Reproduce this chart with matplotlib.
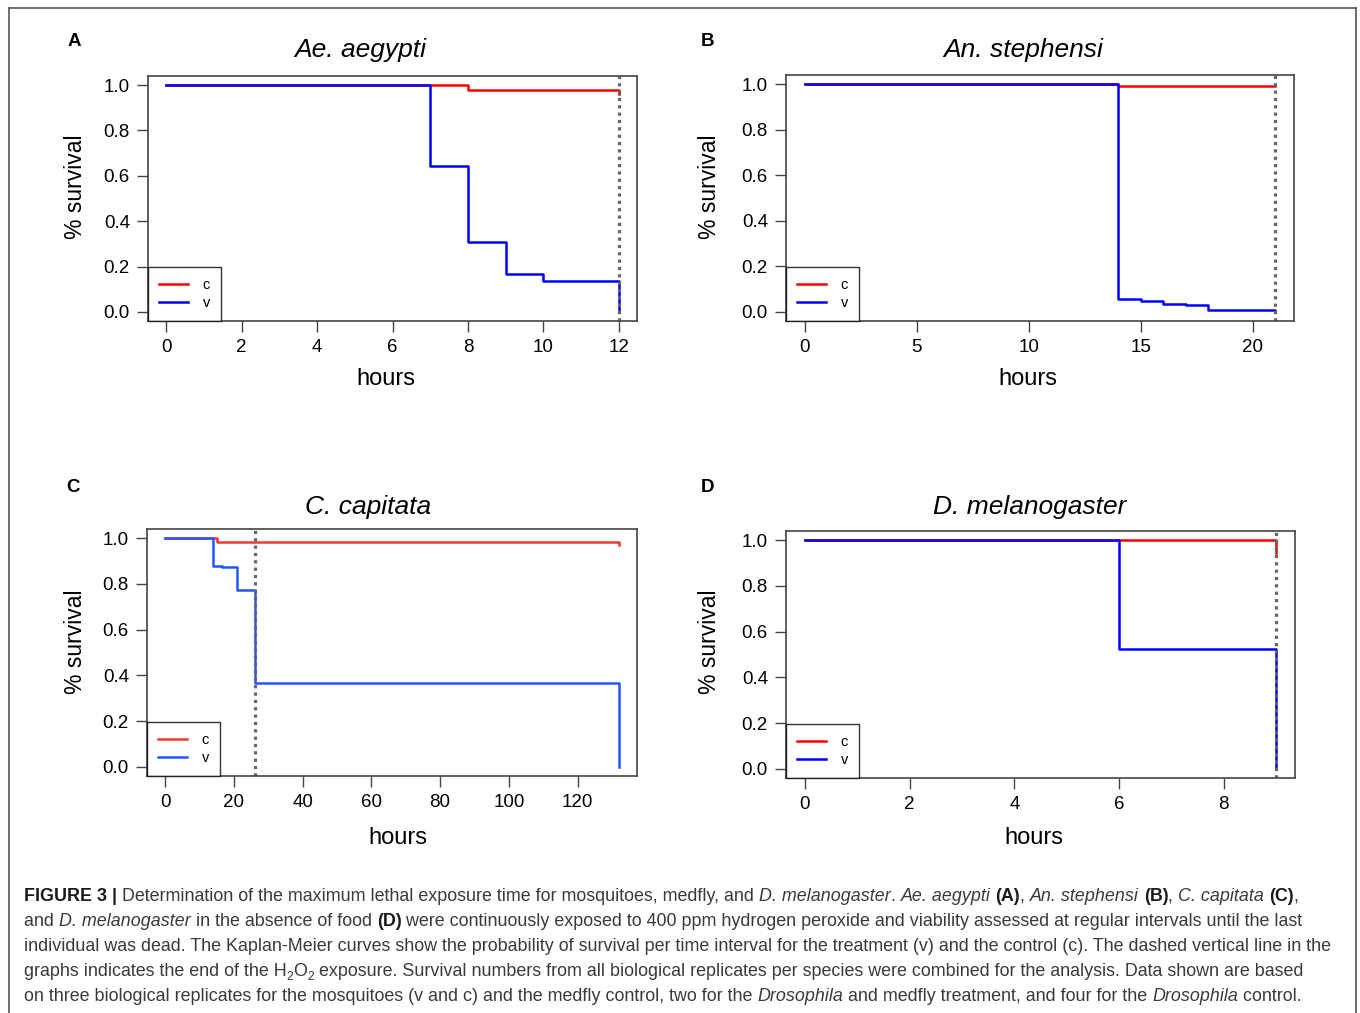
import matplotlib
matplotlib.use("Agg")
import matplotlib.pyplot as plt
from matplotlib.lines import Line2D
from matplotlib import font_manager

W, H = 1360, 1013
DPI = 100

# ---------------- data ----------------
titles = ["Ae. aegypti", "An. stephensi", "C. capitata", "D. melanogaster"]
letters = ["A", "B", "C", "D"]
exposure_end = [12, 21, 26, 9]
x_max = [12, 21, 132, 9]
x_ticks = [[0, 2, 4, 6, 8, 10, 12], [0, 5, 10, 15, 20],
           [0, 20, 40, 60, 80, 100, 120], [0, 2, 4, 6, 8]]
y_ticks = [0.0, 0.2, 0.4, 0.6, 0.8, 1.0]
y_tick_labels = ["0.0", "0.2", "0.4", "0.6", "0.8", "1.0"]

# A: Ae. aegypti
a_c_t = [0, 8, 12]
a_c_s = [1.0, 0.978, 0.96]
a_v_t = [0, 7, 8, 9, 10, 12]
a_v_s = [1.0, 0.645, 0.31, 0.165, 0.135, 0.0]
# B: An. stephensi
b_c_t = [0, 14, 21]
b_c_s = [1.0, 0.9925, 0.9925]
b_v_t = [0, 14, 15, 16, 17, 18, 21]
b_v_s = [1.0, 0.058, 0.048, 0.036, 0.029, 0.007, 0.0]
# C: C. capitata
c_c_t = [0, 15, 132]
c_c_s = [1.0, 0.982, 0.97]
c_v_t = [0, 14, 16.5, 21, 26, 132]
c_v_s = [1.0, 0.88, 0.874, 0.773, 0.365, 0.0]
# D: D. melanogaster
d_c_t = [0, 9]
d_c_s = [1.0, 0.943]
d_v_t = [0, 6, 9]
d_v_s = [1.0, 0.524, 0.0]

control_t = [a_c_t, b_c_t, c_c_t, d_c_t]
control_s = [a_c_s, b_c_s, c_c_s, d_c_s]
treat_t = [a_v_t, b_v_t, c_v_t, d_v_t]
treat_s = [a_v_s, b_v_s, c_v_s, d_v_s]
legend_labels = ["c", "v"]

# ---------------- layout (pixels) ----------------
axes_px = [(148, 76, 637, 321), (786, 75, 1294, 321),
           (147, 529, 637, 776), (786, 531, 1295, 778)]
title_px = [(360, 50), (1023, 50), (368, 507), (1030, 507)]
letter_px = [(74, 41), (708, 41), (73, 488), (708, 488)]
xlabel_px = [(386, 379), (1028, 379), (398, 838), (1034, 838)]
ylabel_px = [(75, 187), (710, 187), (75, 642), (710, 642)]
red_cols = ["#ff0000", "#ff0000", "#ee3a30", "#ff0000"]
blue_cols = ["#0000ff", "#0000ff", "#2255ff", "#0000ff"]

FONT = ["Liberation Sans", "DejaVu Sans"]
plt.rcParams["font.family"] = FONT


def fx(x):
    return x / W


def fy(y):
    return 1 - y / H


fig = plt.figure(figsize=(W / DPI, H / DPI), dpi=DPI)

# outer frame
frame_col = "#555555"
fig.add_artist(Line2D([fx(8.5), fx(8.5)], [fy(8.5), 0], transform=fig.transFigure, color=frame_col, lw=1.2))
fig.add_artist(Line2D([fx(8.5), fx(1355.5)], [fy(8.5), fy(8.5)], transform=fig.transFigure, color=frame_col, lw=1.2))
fig.add_artist(Line2D([fx(1355.5), fx(1355.5)], [fy(8.5), 0], transform=fig.transFigure, color=frame_col, lw=1.2))

spine_col = "#444444"
for i in range(4):
    x0, y0, x1, y1 = axes_px[i]
    ax = fig.add_axes([fx(x0), fy(y1), (x1 - x0) / W, (y1 - y0) / H])
    xm = x_max[i]
    ax.step(control_t[i], control_s[i], where="post", color=red_cols[i], lw=1.8)
    ax.step(treat_t[i], treat_s[i], where="post", color=blue_cols[i], lw=1.8)
    ax.axvline(exposure_end[i], color="#666666", lw=2.3, ls=(0, (1, 1.3)))
    ax.set_xlim(-0.04 * xm, 1.04 * xm)
    ax.set_ylim(-0.04, 1.04)
    ax.set_xticks(x_ticks[i])
    ax.set_xticklabels([str(t) for t in x_ticks[i]])
    ax.set_yticks(y_ticks)
    ax.set_yticklabels(y_tick_labels)
    ax.tick_params(axis="both", length=8, width=1, color=spine_col, labelsize=13.5,
                   labelcolor="black", direction="out")
    ax.tick_params(axis="y", pad=5)
    ax.tick_params(axis="x", pad=5)
    for s in ax.spines.values():
        s.set_color(spine_col)
        s.set_linewidth(1.2)
    handles = [Line2D([], [], color=red_cols[i], lw=1.8),
               Line2D([], [], color=blue_cols[i], lw=1.8)]
    leg = ax.legend(handles, legend_labels, loc="lower left", bbox_to_anchor=(0, 0),
                    borderaxespad=0, fancybox=False, frameon=True, fontsize=10.5,
                    handlelength=2.0, handletextpad=1.0, borderpad=0.75,
                    labelspacing=0.25)
    leg.get_frame().set_edgecolor("black")
    leg.get_frame().set_linewidth(1.0)

    fig.text(fx(title_px[i][0]), fy(title_px[i][1]), titles[i], fontsize=19,
             style="italic", ha="center", va="center")
    fig.text(fx(letter_px[i][0]), fy(letter_px[i][1]), letters[i], fontsize=13.5,
             weight="bold", ha="center", va="center")
    fig.text(fx(xlabel_px[i][0]), fy(xlabel_px[i][1]), "hours", fontsize=17,
             ha="center", va="center")
    fig.text(fx(ylabel_px[i][0]), fy(ylabel_px[i][1]), "% survival", fontsize=16.5,
             ha="center", va="center", rotation=90)

# ---------------- caption ----------------
def has_font(name):
    try:
        font_manager.findfont(name, fallback_to_default=False)
        return True
    except Exception:
        return False

cap_family = ["Liberation Sans Narrow", "Liberation Sans"] if has_font("Liberation Sans Narrow") else ["Liberation Sans"]

caption = [
    [("FIGURE 3 | ", "b"), ("Determination of the maximum lethal exposure time for mosquitoes, medfly, and ", "n"),
     ("D. melanogaster", "i"), (". ", "n"), ("Ae. aegypti", "i"), (" ", "n"), ("(A)", "b"), (", ", "n"),
     ("An. stephensi", "i"), (" ", "n"), ("(B)", "b"), (", ", "n"), ("C. capitata", "i"), (" ", "n"),
     ("(C)", "b"), (",", "n")],
    [("and ", "n"), ("D. melanogaster", "i"), (" in the absence of food ", "n"), ("(D)", "b"),
     (" were continuously exposed to 400 ppm hydrogen peroxide and viability assessed at regular intervals until the last", "n")],
    [("individual was dead. The Kaplan-Meier curves show the probability of survival per time interval for the treatment (v) and the control (c). The dashed vertical line in the", "n")],
    [("graphs indicates the end of the H", "n"), ("2", "sub"), ("O", "n"), ("2", "sub"),
     (" exposure. Survival numbers from all biological replicates per species were combined for the analysis. Data shown are based", "n")],
    [("on three biological replicates for the mosquitoes (v and c) and the medfly control, two for the ", "n"),
     ("Drosophila", "i"), (" and medfly treatment, and four for the ", "n"), ("Drosophila", "i"), (" control.", "n")],
]
cap_baselines = [901, 926, 951, 976, 1001]
cap_x0 = 24
body_col = "#3a3a3a"

renderer = fig.canvas.get_renderer()


def seg_kwargs(style, size):
    kw = dict(family=cap_family, fontsize=size, color=body_col)
    if style == "b":
        kw["weight"] = "bold"
        kw["color"] = "#1a1a1a"
    elif style == "i":
        kw["style"] = "italic"
    elif style == "sub":
        kw["fontsize"] = size * 0.68
    return kw


def seg_width(text, style, size):
    kw = seg_kwargs(style, size)
    t1 = fig.text(0, 0, "I" + text + "I", **kw)
    t2 = fig.text(0, 0, "II", **kw)
    w = t1.get_window_extent(renderer).width - t2.get_window_extent(renderer).width
    t1.remove()
    t2.remove()
    return w


def line_width(segs, size):
    return sum(seg_width(t, s, size) for t, s in segs)

# fit size so that the third line spans its measured width
base = 12.0
target = 1335 - cap_x0
scale = target / line_width(caption[2], base)
cap_size = base * scale

for segs, yb in zip(caption, cap_baselines):
    x = cap_x0
    for text, style in segs:
        kw = seg_kwargs(style, cap_size)
        yy = yb + (3.5 if style == "sub" else 0)
        fig.text(fx(x), fy(yy), text, ha="left", va="baseline", **kw)
        x += seg_width(text, style, cap_size)

fig.savefig("out.png", dpi=DPI)
